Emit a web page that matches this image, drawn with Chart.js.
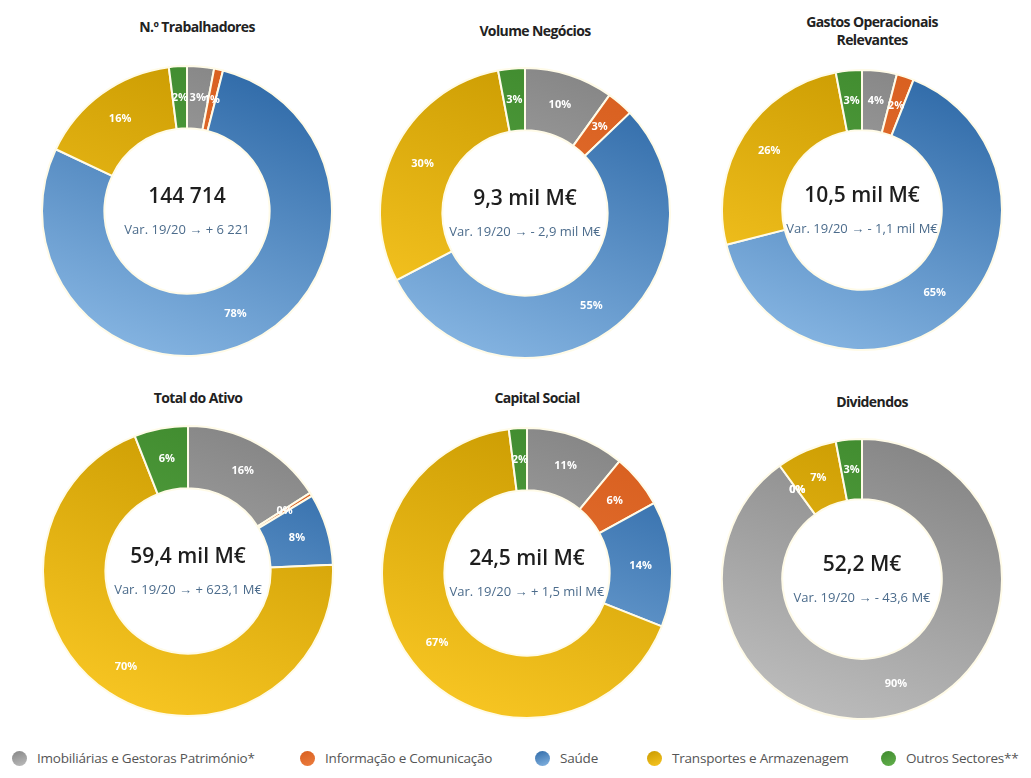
<!DOCTYPE html>
<html>
<head>
<meta charset="utf-8">
<script src="https://cdn.jsdelivr.net/npm/chart.js@4"></script>
<style>
  body { margin: 0; background: #fff; font-family: 'Open Sans', sans-serif; }
  #wrap { position: relative; width: 1031px; height: 778px; overflow: hidden; }
  .box { position: absolute; }
  .title { position: absolute; width: 300px; text-align: center; font-weight: 700; font-size: 14px; color: #222; letter-spacing: -0.6px; line-height: 18px; }
  #legend { position: absolute; left: 0; top: 749px; width: 1031px; height: 20px; font-size: 13.5px; color: #555; letter-spacing: -0.2px; }
  .lg { position: absolute; top: 0; white-space: nowrap; }
  .lg i { display: inline-block; width: 15px; height: 15px; border-radius: 50%; vertical-align: -3px; margin-right: 10px; }
</style>
</head>
<body>
<div id="wrap"></div>
<script>
/* Distribuição por sector — 6 donuts */

const categories = ['Imobiliárias e Gestoras Património*', 'Informação e Comunicação', 'Saúde', 'Transportes e Armazenagem', 'Outros Sectores**'];
const chartTitles = ['N.º Trabalhadores', 'Volume Negócios', 'Gastos Operacionais<br>Relevantes', 'Total do Ativo', 'Capital Social', 'Dividendos'];

// % por sector (ordem das categorias)
const trabalhadores      = [3, 1, 78, 16, 2];
const volumeNegocios     = [10, 3, 55, 30, 3];
const gastosOperacionais = [4, 2, 65, 26, 3];
const totalAtivo         = [16, 0.4, 8, 70, 6];
const capitalSocial      = [11, 6, 14, 67, 2];
const dividendos         = [90, 0, 0, 7, 3];

const totals     = ['144 714', '9,3 mil M€', '10,5 mil M€', '59,4 mil M€', '24,5 mil M€', '52,2 M€'];
const variations = ['Var. 19/20 → + 6 221', 'Var. 19/20 → - 2,9 mil M€', 'Var. 19/20 → - 1,1 mil M€',
                    'Var. 19/20 → + 623,1 M€', 'Var. 19/20 → + 1,5 mil M€', 'Var. 19/20 → - 43,6 M€'];

const GRAY   = ['#858585', '#bdbdbd'];
const ORANGE = ['#d85f1f', '#ec7d3e'];
const BLUE   = ['#2f6aa8', '#86b5e2'];
const YELLOW = ['#c99a00', '#f8c623'];
const GREEN  = ['#3f8a2e', '#63b04c'];
const palette = [GRAY, ORANGE, BLUE, YELLOW, GREEN];

// layout: centre x / y and size of each donut
const boxes = [
  { x: 187, y: 211, r: 146, ty: 18 },
  { x: 525, y: 213, r: 146, ty: 22 },
  { x: 862, y: 210, r: 141, ty: 13 },
  { x: 188, y: 571, r: 146, ty: 389 },
  { x: 527, y: 573, r: 146, ty: 389 },
  { x: 862, y: 579, r: 141, ty: 393 }
];
const series = [trabalhadores, volumeNegocios, gastosOperacionais, totalAtivo, capitalSocial, dividendos];

const wrap = document.getElementById('wrap');

function segmentFill(ctx) {
  const pair = palette[ctx.dataIndex] || GRAY;
  const a = ctx.chart.chartArea;
  if (!a) return pair[0];
  const g = ctx.chart.ctx.createLinearGradient(a.left + a.width * 0.7, a.top, a.left + a.width * 0.3, a.bottom);
  g.addColorStop(0, pair[0]);
  g.addColorStop(1, pair[1]);
  return g;
}

const centerText = {
  id: 'centerText',
  afterDraw(chart, args, opts) {
    const { ctx } = chart;
    const meta = chart.getDatasetMeta(0);
    const arc = meta.data[0];
    if (!arc) return;
    const cx = arc.x, cy = arc.y;
    ctx.save();
    ctx.textAlign = 'center';
    ctx.textBaseline = 'middle';
    ctx.fillStyle = '#1e1e1e';
    ctx.font = '600 21px "Open Sans"';
    ctx.fillText(opts.total, cx, cy - 14);
    ctx.fillStyle = '#4c6c8c';
    ctx.font = '13px "Open Sans"';
    ctx.fillText(opts.variation, cx, cy + 19);
    // percentage labels
    ctx.font = 'bold 11px "Open Sans"';
    ctx.fillStyle = '#fff';
    meta.data.forEach((el, i) => {
      const v = chart.data.datasets[0].data[i];
      const p = el.tooltipPosition();
      ctx.fillText(Math.round(v) + '%', p.x, p.y);
    });
    ctx.restore();
  }
};

series.forEach((data, k) => {
  const b = boxes[k];
  const size = b.r * 2;

  const t = document.createElement('div');
  t.className = 'title';
  t.style.left = (b.x - 150 + 10) + 'px';
  t.style.top = b.ty + 'px';
  t.innerHTML = chartTitles[k];
  wrap.appendChild(t);

  const d = document.createElement('div');
  d.className = 'box';
  d.style.left = (b.x - b.r) + 'px';
  d.style.top = (b.y - b.r) + 'px';
  d.style.width = size + 'px';
  d.style.height = size + 'px';
  const c = document.createElement('canvas');
  d.appendChild(c);
  wrap.appendChild(d);

  new Chart(c, {
    type: 'doughnut',
    data: {
      labels: categories,
      datasets: [{
        data,
        backgroundColor: segmentFill,
        borderColor: '#fffbe8',
        borderWidth: 2
      }]
    },
    options: {
      responsive: true, maintainAspectRatio: false,
      animation: false,
      cutout: '57%',
      layout: { padding: 0 },
      plugins: {
        legend: { display: false },
        tooltip: { enabled: false },
        centerText: { total: totals[k], variation: variations[k] }
      }
    },
    plugins: [centerText]
  });
});

/* legend */
const legend = document.createElement('div');
legend.id = 'legend';
const legendX = [12, 300, 535, 647, 881];
categories.forEach((name, i) => {
  const s = document.createElement('span');
  s.className = 'lg';
  s.style.left = legendX[i] + 'px';
  s.innerHTML = '<i style="background:linear-gradient(160deg,' + palette[i][0] + ',' + palette[i][1] + ')"></i>' + name;
  legend.appendChild(s);
});
wrap.appendChild(legend);
</script>
</body>
</html>
